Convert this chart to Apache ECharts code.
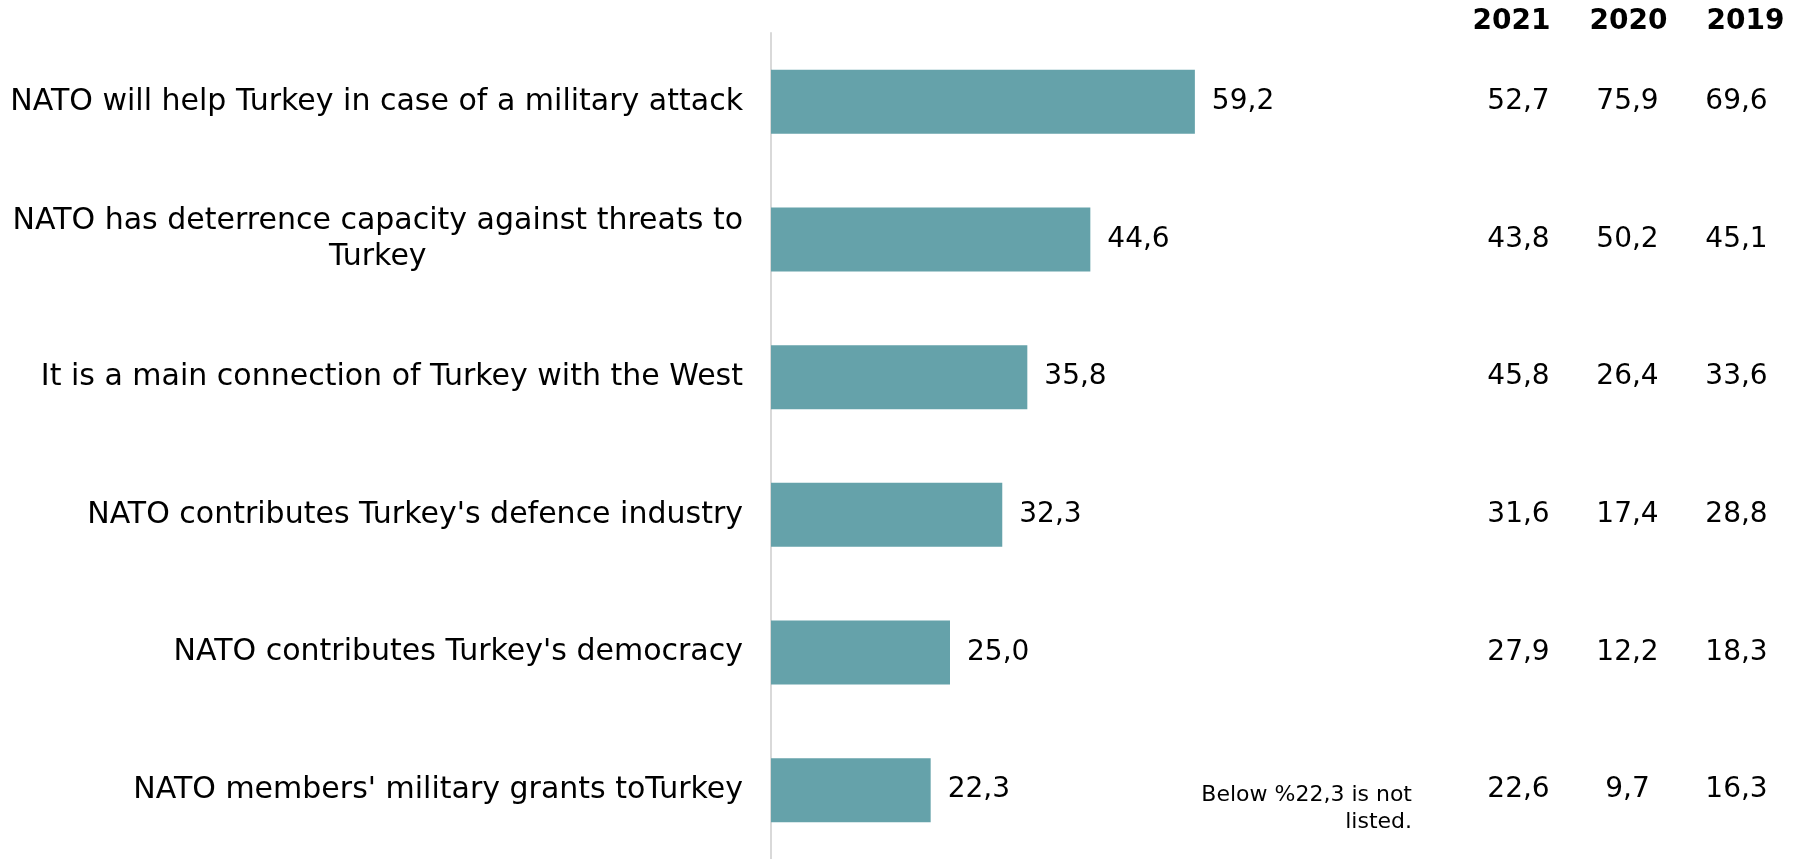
<!DOCTYPE html>
<html>
<head>
<meta charset="utf-8">
<script src="https://cdn.jsdelivr.net/npm/echarts@6/dist/echarts.min.js"></script>
<style>
html,body{margin:0;padding:0;background:#fff;}
#chart{width:1796px;height:859px;}
</style>
</head>
<body>
<div id="chart"></div>
<script>
const categories = [
  "NATO will help Turkey in case of a military attack",
  "NATO has deterrence capacity against threats to\nTurkey",
  "It is a main connection of Turkey with the West",
  "NATO contributes Turkey's defence industry",
  "NATO contributes Turkey's democracy",
  "NATO members' military grants toTurkey"
];
const currentValues = [59.2, 44.6, 35.8, 32.3, 25.0, 22.3];
const years = ["2021", "2020", "2019"];
const values2021 = [52.7, 43.8, 45.8, 31.6, 27.9, 22.6];
const values2020 = [75.9, 50.2, 26.4, 17.4, 12.2, 9.7];
const values2019 = [69.6, 45.1, 33.6, 28.8, 18.3, 16.3];
const noteText = "Below %22,3 is not\nlisted.";

const fmt = v => v.toFixed(1).replace('.', ',');
const sans = "'DejaVu Sans', Verdana, sans-serif";

const tableCols = [values2021, values2020, values2019];
const tableData = [];
tableCols.forEach((col, ci) => col.forEach((v, ri) => tableData.push([ci, ri, v])));

const chart = echarts.init(document.getElementById('chart'));
chart.setOption({
  animation: false,
  backgroundColor: '#ffffff',
  grid: [
    {left: 771, top: 33, width: 716, height: 833, containLabel: false},
    {left: 1464, top: 33, width: 327, height: 833, containLabel: false}
  ],
  xAxis: [
    {type: 'value', gridIndex: 0, min: 0, max: 100, show: false},
    {type: 'category', gridIndex: 1, data: years, position: 'top',
     axisLine: {show: false}, axisTick: {show: false}, splitLine: {show: false},
     axisLabel: {
       margin: -3, interval: 0,
       formatter: (v, i) => ['{a|' + v + '}', '{b|' + v + '}', '{c|' + v + '}'][i],
       rich: {
         a: {fontFamily: sans, fontSize: 28, fontWeight: 'bold', color: '#000', padding: [0, 14, 0, 0]},
         b: {fontFamily: sans, fontSize: 28, fontWeight: 'bold', color: '#000', padding: [0, 0, 0, 2]},
         c: {fontFamily: sans, fontSize: 28, fontWeight: 'bold', color: '#000', padding: [0, 0, 0, 18]}
       }
     }}
  ],
  yAxis: [
    {type: 'category', gridIndex: 0, data: categories, inverse: true,
     axisLine: {show: true, lineStyle: {color: '#d9d9d9', width: 2}},
     axisTick: {show: false},
     axisLabel: {
       margin: 28, interval: 0,
       formatter: v => v.split('\n').map(l => '{c|' + l + '}').join('\n'),
       rich: {c: {fontFamily: sans, fontSize: 30, color: '#000', align: 'center', lineHeight: 36}}
     }},
    {type: 'category', gridIndex: 1, data: categories, inverse: true, show: false}
  ],
  series: [
    {
      type: 'bar', xAxisIndex: 0, yAxisIndex: 0, data: currentValues,
      barWidth: 64,
      itemStyle: {color: '#65a2aa'},
      label: {show: true, position: 'right', distance: 17, formatter: p => fmt(p.value),
              fontFamily: sans, fontSize: 28, color: '#000'}
    },
    {
      type: 'scatter', xAxisIndex: 1, yAxisIndex: 1, data: tableData,
      symbolSize: 1,
      itemStyle: {opacity: 1, color: 'rgba(0,0,0,0)'},
      label: {show: true, position: 'inside', formatter: p => fmt(p.value[2]),
              fontFamily: sans, fontSize: 28, color: '#000', opacity: 1}
    }
  ],
  graphic: [
    {type: 'text', x: 1412, y: 782,
     style: {text: noteText, fontFamily: sans, fontSize: 22, fill: '#000', align: 'right', lineHeight: 27}}
  ]
});
</script>
</body>
</html>
